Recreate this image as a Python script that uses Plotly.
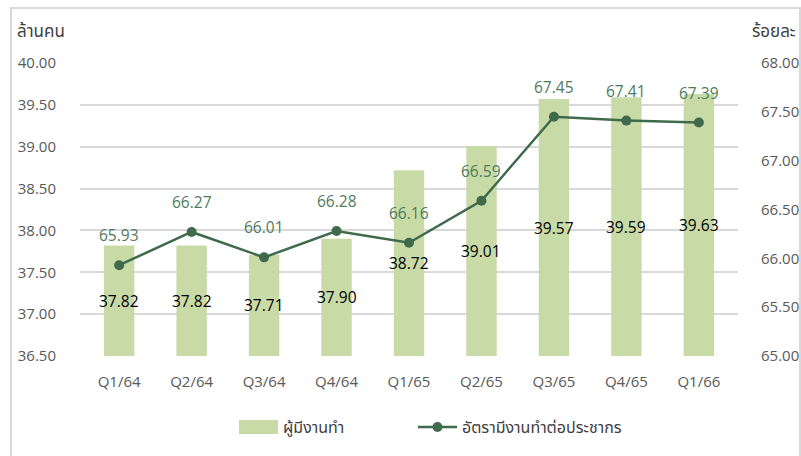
import plotly.graph_objects as go

quarters = ["Q1/64", "Q2/64", "Q3/64", "Q4/64", "Q1/65", "Q2/65", "Q3/65", "Q4/65", "Q1/66"]
employed = [37.82, 37.82, 37.71, 37.90, 38.72, 39.01, 39.57, 39.59, 39.63]
emp_rate = [65.93, 66.27, 66.01, 66.28, 66.16, 66.59, 67.45, 67.41, 67.39]
left_ticks = [36.5, 37.0, 37.5, 38.0, 38.5, 39.0, 39.5, 40.0]
right_ticks = [65.0, 65.5, 66.0, 66.5, 67.0, 67.5, 68.0]

W, H = 801, 456
L, R, T, B = 80, 63, 63, 100
PW, PH = W - L - R, H - T - B
Y_MIN = left_ticks[0]

def px(x):
    return (x - L) / PW

def py(y):
    return (H - B - y) / PH

FONT = "Open Sans, Noto Sans, Noto Sans Thai, Loma, Garuda, sans-serif"
BAR_C = "#C8DBA7"
LINE_C = "#3F6A4B"
LABEL_C = "#4F7A5B"
TICK_C = "#595959"

fig = go.Figure()
fig.add_trace(go.Bar(
    x=quarters, y=employed, name="ผู้มีงานทำ",
    marker=dict(color=BAR_C, line=dict(width=0)),
    yaxis="y", showlegend=False,
))
fig.add_trace(go.Scatter(
    x=quarters, y=emp_rate, name="อัตรามีงานทำต่อประชากร",
    mode="lines+markers",
    line=dict(color=LINE_C, width=2.5),
    marker=dict(color=LINE_C, size=10),
    yaxis="y2", showlegend=False,
))

annotations = []
# bar value labels, centred in each bar
for q, v in zip(quarters, employed):
    annotations.append(dict(x=q, y=(Y_MIN + v) / 2, xref="x", yref="y", text=f"{v:.2f}",
                            showarrow=False,
                            font=dict(color="#000000", size=15.5, family=FONT)))
# line value labels, above each point
for q, v in zip(quarters, emp_rate):
    annotations.append(dict(x=q, y=v, xref="x", yref="y2", text=f"{v:.2f}",
                            showarrow=False, yshift=30,
                            font=dict(color=LABEL_C, size=15.5, family=FONT)))

annotations.append(dict(x=px(15), y=py(30), xref="paper", yref="paper", text="ล้านคน",
                        showarrow=False, xanchor="left", yanchor="middle",
                        font=dict(color="#404040", size=17, family=FONT)))
annotations.append(dict(x=px(798), y=py(30), xref="paper", yref="paper", text="ร้อยละ",
                        showarrow=False, xanchor="right", yanchor="middle",
                        font=dict(color="#404040", size=17, family=FONT)))
annotations.append(dict(x=px(281), y=py(427), xref="paper", yref="paper", text="ผู้มีงานทำ",
                        showarrow=False, xanchor="left", yanchor="middle",
                        font=dict(color="#404040", size=16, family=FONT)))
annotations.append(dict(x=px(460), y=py(427), xref="paper", yref="paper",
                        text="อัตรามีงานทำต่อประชากร",
                        showarrow=False, xanchor="left", yanchor="middle",
                        font=dict(color="#404040", size=16, family=FONT)))

shapes = [
    dict(type="rect", xref="paper", yref="paper", x0=px(11), x1=px(800), y0=py(470), y1=py(8),
         line=dict(color="#D9D9D9", width=2), fillcolor="rgba(0,0,0,0)", layer="below"),
    dict(type="rect", xref="paper", yref="paper", x0=px(239), x1=px(278), y0=py(434), y1=py(420),
         line=dict(width=0), fillcolor=BAR_C),
    dict(type="line", xref="paper", yref="paper", x0=px(418), x1=px(457), y0=py(427), y1=py(427),
         line=dict(color=LINE_C, width=2.5)),
    dict(type="circle", xref="paper", yref="paper", x0=px(432.5), x1=px(442.5),
         y0=py(432), y1=py(422), line=dict(width=0), fillcolor=LINE_C),
]

fig.update_layout(
    width=W, height=H,
    margin=dict(l=L, r=R, t=T, b=B, autoexpand=False),
    paper_bgcolor="white", plot_bgcolor="white",
    bargap=0.58,
    font=dict(family=FONT, color=TICK_C, size=15),
    xaxis=dict(showgrid=False, showline=False, zeroline=False,
               ticks="outside", ticklen=12, tickcolor="rgba(0,0,0,0)",
               tickfont=dict(color=TICK_C, size=15, family=FONT)),
    yaxis=dict(range=[36.5, 40.0], tickvals=left_ticks,
               ticktext=[f"{v:.2f}" for v in left_ticks],
               showgrid=True, gridcolor="#D9D9D9", gridwidth=1.5,
               zeroline=False, showline=False,
               ticks="outside", ticklen=20, tickcolor="rgba(0,0,0,0)",
               tickfont=dict(color=TICK_C, size=15, family=FONT)),
    yaxis2=dict(range=[65.0, 68.0], tickvals=right_ticks,
                ticktext=[f"{v:.2f}" for v in right_ticks],
                overlaying="y", side="right", showgrid=False,
                zeroline=False, showline=False,
                ticks="outside", ticklen=19, tickcolor="rgba(0,0,0,0)",
                tickfont=dict(color=TICK_C, size=15, family=FONT)),
    annotations=annotations, shapes=shapes, showlegend=False,
)

fig.write_html(
    "out.html",
    config={"displayModeBar": False},
    post_script="document.body.style.margin='0';document.body.style.overflow='hidden';",
)
